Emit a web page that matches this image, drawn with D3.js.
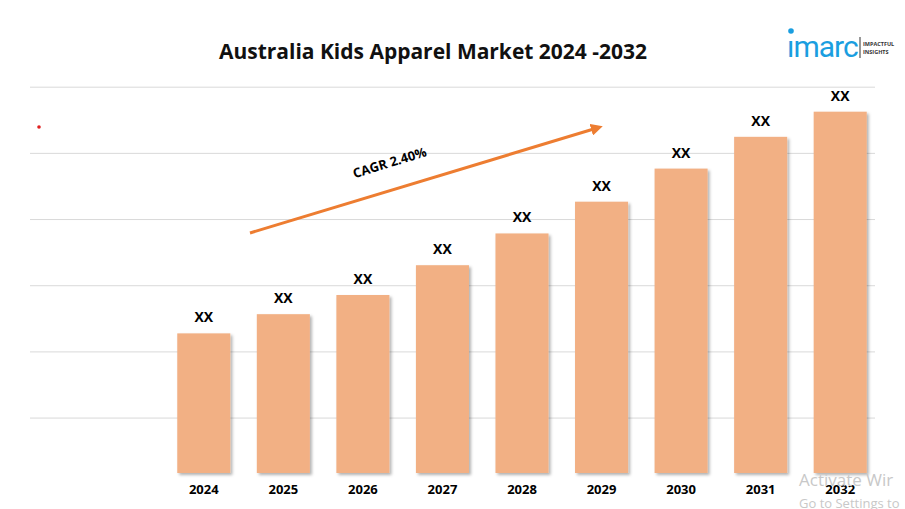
<!DOCTYPE html>
<html><head><meta charset="utf-8">
<script src="https://cdn.jsdelivr.net/npm/d3@7"></script>
<style>body{margin:0;background:#fff;font-family:"Open Sans",Roboto,sans-serif}</style>
</head><body><div id="chart"></div>
<script>
// chart values
var years = ["2024","2025","2026","2027","2028","2029","2030","2031","2032"];
var values = [2.11, 2.40, 2.69, 3.14, 3.62, 4.10, 4.60, 5.08, 5.46];
var labels = ["XX","XX","XX","XX","XX","XX","XX","XX","XX"];
var gridValues = [0.83, 1.83, 2.83, 3.83, 4.83, 5.83];

var width = 905, height = 509;
var svg = d3.select("#chart").append("svg")
	.attr("width", width).attr("height", height);

var defs = svg.append("defs");
var f = defs.append("filter").attr("id","shadow").attr("x","-20%").attr("y","-20%").attr("width","150%").attr("height","150%");
f.append("feDropShadow").attr("dx",2).attr("dy",2).attr("stdDeviation",1.5).attr("flood-color","#000").attr("flood-opacity",0.3);

var x = d3.scaleBand().domain(years).range([164, 880]).paddingInner(0.333).paddingOuter(0.1667);
var y = d3.scaleLinear().domain([0, 5.833]).range([473, 87]);

svg.selectAll(".grid").data(gridValues).enter().append("line")
	.attr("x1", 30).attr("x2", 875)
	.attr("y1", function(d){ return y(d); }).attr("y2", function(d){ return y(d); })
	.attr("stroke","#d9d9d9").attr("stroke-width",1);

svg.selectAll(".bar").data(values).enter().append("rect")
	.attr("x", function(d,i){ return x(years[i]); })
	.attr("y", function(d){ return y(d); })
	.attr("width", x.bandwidth())
	.attr("height", function(d){ return y(0) - y(d); })
	.attr("fill","#f2b084")
	.attr("filter","url(#shadow)");

svg.selectAll(".val").data(values).enter().append("text")
	.attr("x", function(d,i){ return x(years[i]) + x.bandwidth()/2; })
	.attr("y", function(d){ return y(d) - 11; })
	.attr("text-anchor","middle").attr("font-size",14).attr("font-weight","bold")
	.text(function(d,i){ return labels[i]; });

svg.selectAll(".yr").data(years).enter().append("text")
	.attr("x", function(d){ return x(d) + x.bandwidth()/2; })
	.attr("y", 494)
	.attr("text-anchor","middle").attr("font-size",13).attr("font-weight","bold")
	.text(function(d){ return d; });

svg.append("text").attr("x",433).attr("y",59).attr("text-anchor","middle")
	.attr("font-size",21).attr("font-weight","bold").attr("fill","#111")
	.attr("textLength",428)
	.text("Australia Kids Apparel Market 2024 -2032");

// CAGR arrow
defs.append("marker").attr("id","arr").attr("viewBox","0 0 10 10").attr("refX",5).attr("refY",5)
	.attr("markerWidth",4).attr("markerHeight",4).attr("orient","auto")
	.append("path").attr("d","M0,0L10,5L0,10z").attr("fill","#ed7d31");
svg.append("line").attr("x1",250).attr("y1",233).attr("x2",597).attr("y2",128)
	.attr("stroke","#ed7d31").attr("stroke-width",3).attr("marker-end","url(#arr)");
svg.append("text").attr("transform","translate(391,167) rotate(-17)")
	.attr("text-anchor","middle").attr("font-size",13).attr("font-weight","bold")
	.text("CAGR 2.40%");

svg.append("circle").attr("cx",39).attr("cy",127).attr("r",1.8).attr("fill","#e02020");

// logo
var logo = svg.append("g");
logo.append("text").attr("x",787).attr("y",57).attr("font-size",30).attr("fill","#1a9ee0")
	.attr("font-family","Roboto, sans-serif").attr("letter-spacing",-1).text("ımarc");
logo.append("circle").attr("cx",791).attr("cy",31).attr("r",2.8).attr("fill","#1a9ee0");
logo.append("line").attr("x1",860).attr("x2",860).attr("y1",37).attr("y2",58).attr("stroke","#333").attr("stroke-width",1);
logo.append("text").attr("x",863).attr("y",46).attr("font-size",5.5).attr("font-weight","bold").attr("fill","#333").text("IMPACTFUL");
logo.append("text").attr("x",863).attr("y",54).attr("font-size",5.5).attr("font-weight","bold").attr("fill","#333").text("INSIGHTS");

// watermark
svg.append("text").attr("x",799).attr("y",486).attr("font-size",17).attr("fill","#c8c8c8").text("Activate Wir");
svg.append("text").attr("x",799).attr("y",508).attr("font-size",13).attr("fill","#c8c8c8").text("Go to Settings to");
</script></body></html>
